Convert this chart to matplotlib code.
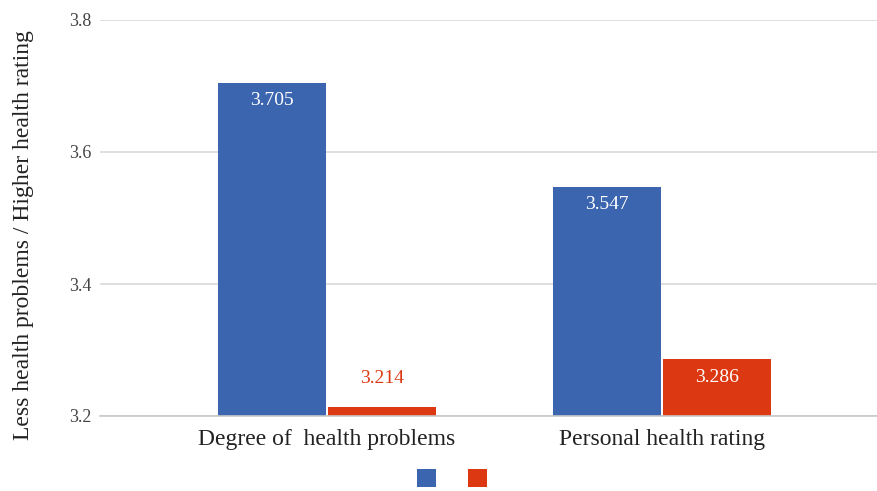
import matplotlib
matplotlib.use("Agg")
import matplotlib.pyplot as plt
from matplotlib.patches import Patch

categories = ["Degree of  health problems", "Personal health rating"]
series_names = ["", ""]
series_a = [3.705, 3.547]
series_b = [3.214, 3.286]
yticks = [3.2, 3.4, 3.6, 3.8]
colors = ["#3c65b0", "#dc3912"]

plt.rcParams['font.family'] = ['Liberation Serif', 'DejaVu Serif']

fig = plt.figure(figsize=(8.78, 4.91), dpi=100)
ax = fig.add_axes([100/878, 75/491, 778/878, 396/491])

x = [0, 1]
w = 0.322
off = 0.164
ba = ax.bar([i - off for i in x], series_a, width=w, color=colors[0], zorder=3)
bb = ax.bar([i + off for i in x], series_b, width=w, color=colors[1], zorder=3)

ax.set_ylim(3.2, 3.8)
ax.set_xlim(-0.678, 1.645)
ax.set_yticks(yticks)
ax.set_yticklabels([f"{t:.1f}" for t in yticks])
ax.set_xticks(x)
ax.set_xticklabels(categories)
ax.tick_params(axis='y', length=0, pad=6, labelsize=13, colors='#444444')
ax.tick_params(axis='x', length=0, pad=9, labelsize=17, colors='#222222')
ax.grid(axis='y', color='#d9d9d9', linewidth=1.2, zorder=0)
for s in ['top', 'right', 'left']:
    ax.spines[s].set_visible(False)
ax.spines['bottom'].set_color('#c8c8c8')
ax.spines['bottom'].set_linewidth(1.2)
ax.spines['bottom'].set_zorder(4)

ax.set_ylabel("Less health problems / Higher health rating", fontsize=17, color='#222222', va='center')
ax.yaxis.set_label_coords(-76/778, 0.457)

def label(bars, vals, col):
    for r, v in zip(bars, vals):
        cx = r.get_x() + r.get_width()/2
        h_px = (v - 3.2) / 0.6 * 396
        if h_px > 40:
            ax.annotate(f"{v:.3f}", (cx, v), xytext=(0, -18), textcoords='offset pixels',
                        ha='center', va='center', color='white', fontsize=14, zorder=5)
        else:
            ax.annotate(f"{v:.3f}", (cx, v), xytext=(0, 28), textcoords='offset pixels',
                        ha='center', va='center', color=col, fontsize=14, zorder=5)

label(ba, series_a, colors[0])
label(bb, series_b, colors[1])

handles = [Patch(facecolor=colors[0]), Patch(facecolor=colors[1])]
fig.legend(handles, series_names, loc='center', bbox_to_anchor=(452/878, 1 - 479/491),
           ncol=2, frameon=False, fontsize=14, handlelength=1.0, handleheight=1.0,
           handletextpad=0.0, columnspacing=1.6, borderpad=0)

fig.savefig("out.png", dpi=100)
